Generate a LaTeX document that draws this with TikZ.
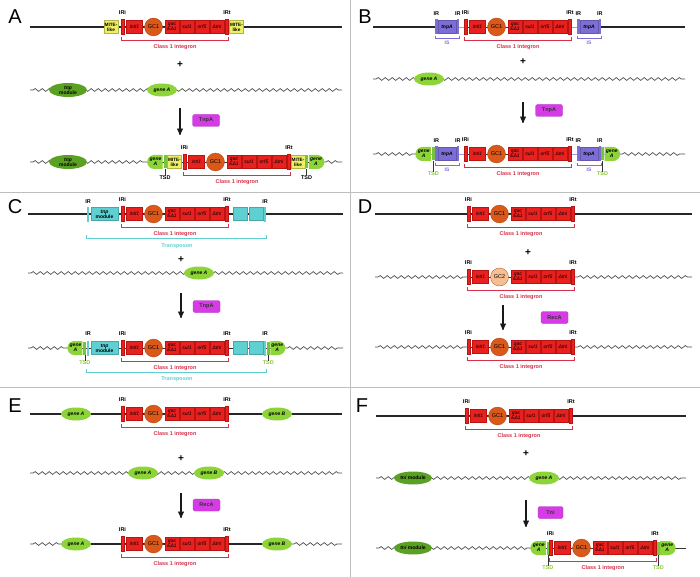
\documentclass[tikz,border=0pt]{standalone}
\usepackage{fontspec}
\setmainfont{Liberation Sans}
\usepackage{tikz}
\usetikzlibrary{arrows}
\usetikzlibrary{shapes.geometric}
\usetikzlibrary{shapes.misc}
\usetikzlibrary{decorations.pathmorphing}

\definecolor{intred}{RGB}{232,32,30}
\definecolor{intedge}{RGB}{185,20,20}
\definecolor{gcone}{RGB}{217,88,26}
\definecolor{gctwo}{RGB}{246,190,145}
\definecolor{mite}{RGB}{238,240,100}
\definecolor{isblue}{RGB}{125,110,215}
\definecolor{tncyan}{RGB}{95,208,210}
\definecolor{genelight}{RGB}{140,212,55}
\definecolor{genedark}{RGB}{90,160,35}
\definecolor{tsdbarc}{RGB}{118,196,60}
\definecolor{enzpink}{RGB}{214,60,230}
\definecolor{labred}{RGB}{214,48,74}
\definecolor{tsdgreen}{RGB}{140,200,60}
\definecolor{divgray}{RGB}{190,190,190}

% one class 1 integron: name, x of IRi, y of line, cassette text, cassette colour
\newcommand{\integron}[5]{%
  \begin{scope}[shift={(#2,#3)}]
    \coordinate (#1s) at (0,0);
    \coordinate (#1e) at (108,0);
    \draw[thinline] (#1s) -- (#1e);
    \node[irbar] (#1iri) at (1.5,0) {};
    \node[genebox,minimum width=16pt] (#1int) at (13.5,0) {intI1};
    \node[cassette,fill=#5] (#1gc) at (32.5,0) {#4};
    \node[genebox] (#1qac) at (51,0) {qac\\EΔ1};
    \node[genebox] (#1sul) at (66,0) {sul1};
    \node[genebox] (#1orf) at (81,0) {orf5};
    \node[genebox] (#1tni) at (96,0) {Δtni};
    \node[irbar] (#1irt) at (106,0) {};
    \node[irlbl] (#1ilbl) at (1.5,14) {IRi};
    \node[irlbl] (#1tlbl) at (106,14) {IRt};
    \draw[intbr] ([yshift=-2.5pt]#1iri.south west) -- ++(0,-3) -| ([yshift=-2.5pt]#1irt.south east);
    \node[intlbl] (#1lbl) at (54,-20) {Class 1 integron};
  \end{scope}}

% one IS element: name, x of left IR, y of line
\newcommand{\insseq}[3]{%
  \begin{scope}[shift={(#2,#3)}]
    \node[isir] (#1l) at (1.25,0) {};
    \node[isbox] (#1t) at (12,0) {tnpA};
    \node[isir] (#1r) at (22.75,0) {};
    \node[irlbl] (#1ll) at (1.25,13) {IR};
    \node[irlbl] (#1rl) at (22.75,13) {IR};
    \draw[isbr] ([yshift=-1.5pt]#1l.south west) -- ++(0,-2) -| ([yshift=-1.5pt]#1r.south east);
    \node[islbl] (#1lbl) at (12,-16) {IS};
  \end{scope}}

\begin{document}
\begin{tikzpicture}[x=1pt,y=1pt,
    backbone/.style={line width=1.6pt,black!85},
    thinline/.style={line width=0.7pt,black!80},
    wavy/.style={decorate,decoration={snake,amplitude=1.4pt,segment length=7pt,pre length=3pt,post length=3pt},line width=0.7pt,black!70},
    irbar/.style={rectangle,fill=intred,draw=intedge,line width=0.3pt,minimum width=3pt,minimum height=15pt,inner sep=0pt},
    genebox/.style={rectangle,fill=intred,draw=intedge,line width=0.3pt,minimum width=14pt,minimum height=13pt,inner sep=0pt,align=center,text=black,font=\fontsize{5}{5}\selectfont\itshape},
    cassette/.style={circle,draw=gcone!80!black,line width=0.3pt,minimum size=18pt,inner sep=0pt,text=black,font=\fontsize{5.5}{5.5}\selectfont},
    irlbl/.style={inner sep=0pt,font=\fontsize{5.5}{6}\selectfont\bfseries},
    intlbl/.style={inner sep=0pt,text=labred,font=\fontsize{5.5}{6}\selectfont\bfseries},
    intbr/.style={labred,line width=0.6pt},
    isir/.style={rectangle,fill=isblue,minimum width=2.5pt,minimum height=15pt,inner sep=0pt},
    isbox/.style={rectangle,fill=isblue,draw=isblue!80!black,line width=0.3pt,minimum width=18pt,minimum height=13pt,inner sep=0pt,text=black,font=\fontsize{5}{5}\selectfont\itshape\bfseries},
    isbr/.style={isblue,line width=0.6pt},
    islbl/.style={inner sep=0pt,text=isblue,font=\fontsize{5}{5}\selectfont\bfseries},
    tnir/.style={rectangle,fill=tncyan,minimum width=2.5pt,minimum height=15pt,inner sep=0pt},
    tnbox/.style={rectangle,fill=tncyan,draw=tncyan!80!black,line width=0.3pt,minimum width=14pt,minimum height=13pt,inner sep=0pt,align=center,text=black,font=\fontsize{5}{5}\selectfont\bfseries},
    tnbr/.style={tncyan,line width=0.6pt},
    tnlbl/.style={inner sep=0pt,text=tncyan,font=\fontsize{5.5}{6}\selectfont\bfseries},
    mitebox/.style={rectangle,fill=mite,draw=mite!75!black,line width=0.3pt,minimum width=14pt,minimum height=13pt,inner sep=0pt,align=center,text=black,font=\fontsize{4.7}{5}\selectfont\bfseries},
    tsdbar/.style={rectangle,fill=tsdbarc,minimum width=3pt,minimum height=13pt,inner sep=0pt},
    tsdlbl/.style={inner sep=0pt,font=\fontsize{5.5}{6}\selectfont\bfseries},
    tsdtick/.style={line width=0.5pt,black!80},
    geneell/.style={ellipse,fill=genelight,minimum width=30pt,minimum height=13pt,inner sep=0pt,text=black,font=\fontsize{5}{5}\selectfont\bfseries\itshape},
    moddark/.style={ellipse,fill=genedark,minimum width=38pt,minimum height=14pt,inner sep=0pt,align=center,text=black,font=\fontsize{5}{5}\selectfont\bfseries},
    halfl/.style={rounded rectangle,rounded rectangle east arc=none,fill=genelight,minimum width=15.5pt,minimum height=14pt,inner sep=0pt,align=center,text=black,font=\fontsize{5}{5}\selectfont\bfseries\itshape},
    halfr/.style={halfl,rounded rectangle east arc=convex,rounded rectangle west arc=none},
    enzyme/.style={rectangle,rounded corners=1.5pt,fill=enzpink,draw=enzpink!80!black,line width=0.3pt,minimum width=27pt,minimum height=12pt,inner sep=0pt,text=black!80,font=\fontsize{5.5}{6}\selectfont\bfseries},
    rxn/.style={->,>=stealth',line width=1.3pt,black!90},
    plussign/.style={inner sep=0pt,font=\fontsize{10}{10}\selectfont\bfseries},
    panellbl/.style={inner sep=0pt,font=\fontsize{20}{20}\selectfont},
    divider/.style={divgray,line width=0.8pt}]

  \fill[white] (0,0) rectangle (700,-577);
  \useasboundingbox (0,0) rectangle (700,-577);

  % dividers
  \coordinate (dv1) at (350,0);  \coordinate (dv2) at (350,-577);
  \coordinate (dh1) at (0,-192); \coordinate (dh2) at (700,-192);
  \coordinate (dh3) at (0,-387); \coordinate (dh4) at (700,-387);
  \draw[divider] (dv1) -- (dv2);
  \draw[divider] (dh1) -- (dh2);
  \draw[divider] (dh3) -- (dh4);

  %%%%% A
  \node[panellbl] (pa) at (15,-17) {A};
  \coordinate (a1s) at (30,-27); \coordinate (a1e) at (342,-27);
  \draw[backbone] (a1s) -- (a1e);
  \node[mitebox] (amite1) at (111,-27) {MITE-\\like};
  \integron{ai}{121}{-27}{GC1}{gcone}
  \node[mitebox] (amite2) at (236.5,-27) {MITE-\\like};
  \node[plussign] (aplus) at (180,-65) {+};
  \coordinate (a2s) at (30,-90); \coordinate (a2e) at (342,-90);
  \draw[wavy] (a2s) -- (a2e);
  \node[moddark] (atnp1) at (68,-90) {\textit{tnp}\\module};
  \node[geneell] (agene) at (162,-90) {gene A};
  \coordinate (aarr1) at (180,-108); \coordinate (aarr2) at (180,-135);
  \draw[rxn] (aarr1) -- (aarr2);
  \node[enzyme] (aenz) at (206,-120.5) {TnpA};
  \coordinate (a3s) at (30,-162); \coordinate (a3m) at (148,-162);
  \coordinate (a3n) at (323,-162); \coordinate (a3e) at (342,-162);
  \draw[wavy] (a3s) -- (a3m);
  \draw[thinline] (a3m) -- (a3n);
  \draw[wavy] (a3n) -- (a3e);
  \node[moddark] (atnp2) at (68,-162) {\textit{tnp}\\module};
  \node[halfl] (agl) at (155.5,-162) {gene\\A};
  \node[tsdbar] (atsd1) at (165,-162) {};
  \node[mitebox] (amite3) at (174.5,-162) {MITE-\\like};
  \integron{ap}{183}{-162}{GC1}{gcone}
  \node[mitebox] (amite4) at (298,-162) {MITE-\\like};
  \node[tsdbar] (atsd2) at (306.5,-162) {};
  \node[halfr] (agr) at (316,-162) {gene\\A};
  \node[tsdlbl] (atsdl1) at (165,-178) {TSD};
  \node[tsdlbl] (atsdl2) at (306.5,-178) {TSD};
  \draw[tsdtick] (atsd1.south) -- (atsdl1.north);
  \draw[tsdtick] (atsd2.south) -- (atsdl2.north);

  %%%%% B
  \node[panellbl] (pb) at (365,-17) {B};
  \coordinate (b1s) at (373,-27); \coordinate (b1m) at (435,-27);
  \coordinate (b1n) at (601,-27); \coordinate (b1e) at (685,-27);
  \draw[backbone] (b1s) -- (b1m);
  \draw[thinline,isblue!70] (b1m) -- (b1n);
  \draw[backbone] (b1n) -- (b1e);
  \insseq{bis1}{435}{-27}
  \integron{bi}{464}{-27}{GC1}{gcone}
  \insseq{bis2}{577}{-27}
  \node[plussign] (bplus) at (523,-62) {+};
  \coordinate (b2s) at (373,-79); \coordinate (b2e) at (685,-79);
  \draw[wavy] (b2s) -- (b2e);
  \node[geneell] (bgene) at (429,-79) {gene A};
  \coordinate (barr1) at (523,-102); \coordinate (barr2) at (523,-123);
  \draw[rxn] (barr1) -- (barr2);
  \node[enzyme] (benz) at (549,-110.5) {TnpA};
  \coordinate (b3s) at (373,-154); \coordinate (b3m) at (416,-154);
  \coordinate (b3n) at (619.5,-154); \coordinate (b3e) at (685,-154);
  \draw[wavy] (b3s) -- (b3m);
  \draw[thinline,isblue!70] (b3m) -- (b3n);
  \draw[wavy] (b3n) -- (b3e);
  \node[halfl] (bgl) at (423.75,-154) {gene\\A};
  \node[tsdbar] (btsd1) at (433.25,-154) {};
  \insseq{bis3}{435}{-154}
  \integron{bp}{464}{-154}{GC1}{gcone}
  \insseq{bis4}{577}{-154}
  \node[tsdbar] (btsd2) at (602.5,-154) {};
  \node[halfr] (bgr) at (611.75,-154) {gene\\A};
  \node[tsdlbl,text=tsdgreen] (btsdl1) at (433.25,-174) {TSD};
  \node[tsdlbl,text=tsdgreen] (btsdl2) at (602.5,-174) {TSD};
  \draw[tsdtick] (btsd1.south) -- (btsdl1.north);
  \draw[tsdtick] (btsd2.south) -- (btsdl2.north);

  %%%%% C
  \node[panellbl] (pc) at (15,-207) {C};
  \coordinate (c1s) at (28,-214); \coordinate (c1e) at (343,-214);
  \draw[backbone] (c1s) -- (c1e);
  \node[tnir] (ctir1) at (88,-214) {};
  \node[tnbox,minimum width=27pt] (ctnp1) at (104.5,-214) {\textit{tnp}\\module};
  \integron{ci}{121}{-214}{GC1}{gcone}
  \node[tnbox] (cbox1) at (240,-214) {};
  \node[tnbox] (cbox2) at (256,-214) {};
  \node[tnir] (ctir2) at (265,-214) {};
  \node[irlbl] (cirl1) at (88,-202) {IR};
  \node[irlbl] (cirl2) at (265,-202) {IR};
  \draw[tnbr] ([yshift=-13.5pt]ctir1.south west) -- ++(0,-3) -| ([yshift=-13.5pt]ctir2.south east);
  \node[tnlbl] (ctnl1) at (177,-246) {Transposon};
  \node[plussign] (cplus) at (181,-260) {+};
  \coordinate (c2s) at (28,-273); \coordinate (c2e) at (343,-273);
  \draw[wavy] (c2s) -- (c2e);
  \node[geneell] (cgene) at (199,-273) {gene A};
  \coordinate (carr1) at (181,-293); \coordinate (carr2) at (181,-318);
  \draw[rxn] (carr1) -- (carr2);
  \node[enzyme] (cenz) at (206.5,-306.5) {TnpA};
  \coordinate (c3s) at (28,-348); \coordinate (c3m) at (68,-348);
  \coordinate (c3n) at (284.5,-348); \coordinate (c3e) at (343,-348);
  \draw[wavy] (c3s) -- (c3m);
  \draw[thinline] (c3m) -- (c3n);
  \draw[wavy] (c3n) -- (c3e);
  \node[halfl,minimum width=15pt] (cgl) at (75.5,-348) {gene\\A};
  \node[tsdbar] (ctsd1) at (84.75,-348) {};
  \node[tnir] (ctir3) at (88,-348) {};
  \node[tnbox,minimum width=27pt] (ctnp2) at (104.5,-348) {\textit{tnp}\\module};
  \integron{cp}{121}{-348}{GC1}{gcone}
  \node[tnbox] (cbox3) at (240,-348) {};
  \node[tnbox] (cbox4) at (256,-348) {};
  \node[tnir] (ctir4) at (265,-348) {};
  \node[tsdbar] (ctsd2) at (268.25,-348) {};
  \node[halfr,minimum width=15pt] (cgr) at (277.25,-348) {gene\\A};
  \node[irlbl] (cirl3) at (88,-334) {IR};
  \node[irlbl] (cirl4) at (265,-334) {IR};
  \node[tsdlbl,text=tsdgreen] (ctsdl1) at (84.75,-363) {TSD};
  \node[tsdlbl,text=tsdgreen] (ctsdl2) at (268.25,-363) {TSD};
  \draw[tsdtick] (ctsd1.south) -- (ctsdl1.north);
  \draw[tsdtick] (ctsd2.south) -- (ctsdl2.north);
  \draw[tnbr] ([yshift=-13.5pt]ctir3.south west) -- ++(0,-3) -| ([yshift=-13.5pt]ctir4.south east);
  \node[tnlbl] (ctnl2) at (177,-379) {Transposon};

  %%%%% D
  \node[panellbl] (pd) at (365,-207) {D};
  \coordinate (d1s) at (375,-214); \coordinate (d1e) at (692,-214);
  \draw[backbone] (d1s) -- (d1e);
  \integron{di}{467}{-214}{GC1}{gcone}
  \node[plussign] (dplus) at (528,-253) {+};
  \coordinate (d2s) at (375,-277); \coordinate (d2m) at (467,-277);
  \coordinate (d2n) at (575,-277); \coordinate (d2e) at (692,-277);
  \draw[wavy] (d2s) -- (d2m);
  \draw[wavy] (d2n) -- (d2e);
  \integron{dm}{467}{-277}{GC2}{gctwo}
  \coordinate (darr1) at (503,-305); \coordinate (darr2) at (503,-330);
  \draw[rxn] (darr1) -- (darr2);
  \node[enzyme] (denz) at (554.5,-317.5) {RecA};
  \coordinate (d3s) at (375,-347); \coordinate (d3m) at (467,-347);
  \coordinate (d3n) at (575,-347); \coordinate (d3e) at (692,-347);
  \draw[wavy] (d3s) -- (d3m);
  \draw[wavy] (d3n) -- (d3e);
  \integron{dp}{467}{-347}{GC1}{gcone}

  %%%%% E
  \node[panellbl] (pe) at (15,-406) {E};
  \coordinate (e1s) at (30,-414); \coordinate (e1e) at (342,-414);
  \draw[backbone] (e1s) -- (e1e);
  \node[geneell] (egA1) at (76,-414) {gene A};
  \integron{ei}{121}{-414}{GC1}{gcone}
  \node[geneell] (egB1) at (277,-414) {gene B};
  \node[plussign] (eplus) at (181,-459) {+};
  \coordinate (e2s) at (30,-473); \coordinate (e2e) at (342,-473);
  \draw[wavy] (e2s) -- (e2e);
  \node[geneell] (egA2) at (143,-473) {gene A};
  \node[geneell] (egB2) at (209,-473) {gene B};
  \coordinate (earr1) at (181,-493); \coordinate (earr2) at (181,-518);
  \draw[rxn] (earr1) -- (earr2);
  \node[enzyme] (eenz) at (206.5,-505) {RecA};
  \coordinate (e3s) at (30,-544); \coordinate (e3m) at (62,-544);
  \coordinate (e3n) at (291,-544); \coordinate (e3e) at (342,-544);
  \draw[wavy] (e3s) -- (e3m);
  \draw[backbone] (e3m) -- (e3n);
  \draw[wavy] (e3n) -- (e3e);
  \node[geneell] (egA3) at (76,-544) {gene A};
  \integron{ep}{121}{-544}{GC1}{gcone}
  \node[geneell] (egB3) at (277,-544) {gene B};

  %%%%% F
  \node[panellbl] (pf) at (362,-406) {F};
  \coordinate (f1s) at (376,-416); \coordinate (f1e) at (686,-416);
  \draw[backbone] (f1s) -- (f1e);
  \integron{fi}{465}{-416}{GC1}{gcone}
  \node[plussign] (fplus) at (526,-454) {+};
  \coordinate (f2s) at (376,-478); \coordinate (f2e) at (686,-478);
  \draw[wavy] (f2s) -- (f2e);
  \node[moddark,minimum height=13pt] (ftni1) at (413,-478) {\textit{tni} module};
  \node[geneell] (fgene) at (544,-478) {gene A};
  \coordinate (farr1) at (526,-500); \coordinate (farr2) at (526,-527);
  \draw[rxn] (farr1) -- (farr2);
  \node[enzyme,minimum width=25pt] (fenz) at (550.5,-512.5) {Tni};
  \coordinate (f3s) at (376,-548); \coordinate (f3m) at (531,-548);
  \coordinate (f3n) at (675,-548); \coordinate (f3e) at (686,-548);
  \draw[wavy] (f3s) -- (f3m);
  \draw[thinline] (f3m) -- (f3n);
  \draw[thinline] (f3n) -- (f3e);
  \node[moddark,minimum height=13pt] (ftni2) at (413,-548) {\textit{tni} module};
  \node[halfl] (fgl) at (538.75,-548) {gene\\A};
  \node[tsdbar,minimum width=2.5pt] (ftsd1) at (547.75,-548) {};
  \integron{fp}{549}{-548}{GC1}{gcone}
  \node[tsdbar,minimum width=2.5pt] (ftsd2) at (658.25,-548) {};
  \node[halfr] (fgr) at (667.25,-548) {gene\\A};
  \node[tsdlbl,text=tsdgreen] (ftsdl1) at (547.75,-568) {TSD};
  \node[tsdlbl,text=tsdgreen] (ftsdl2) at (658.25,-568) {TSD};
  \draw[tsdtick] (ftsd1.south) -- (ftsdl1.north);
  \draw[tsdtick] (ftsd2.south) -- (ftsdl2.north);
\end{tikzpicture}
\end{document}
